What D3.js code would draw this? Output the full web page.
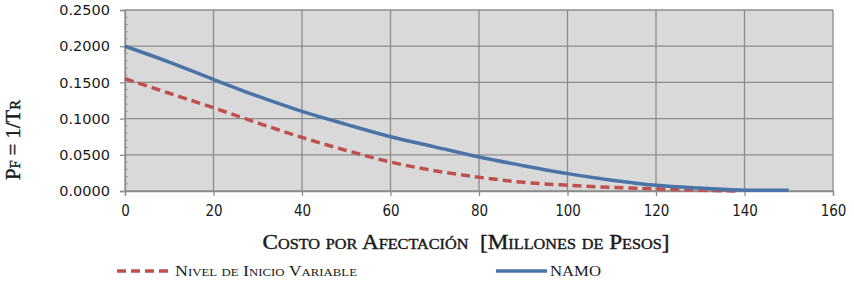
<!DOCTYPE html>
<html>
<head>
<meta charset="UTF-8">
<script src="https://d3js.org/d3.v7.min.js"></script>
<style>
  body { margin: 0; background: #fff; }
  text { fill: #1a1a1a; }
</style>
</head>
<body>
<svg id="canvas"></svg>
<script>
width = 854;
height = 282;

// values
xTicks = [0, 20, 40, 60, 80, 100, 120, 140, 160];
yTicks = [0, 0.05, 0.10, 0.15, 0.20, 0.25];

namoX = [0, 10, 20, 30, 40, 50, 60, 70, 80, 90, 100, 110, 120, 130, 140, 150];
namoY = [0.200, 0.178, 0.154, 0.131, 0.110, 0.092, 0.075, 0.061, 0.047, 0.035, 0.024, 0.015, 0.008, 0.004, 0.001, 0.001];

nivelX = [0, 10, 20, 30, 40, 50, 60, 70, 80, 90, 100, 110, 120, 130, 138];
nivelY = [0.155, 0.135, 0.115, 0.094, 0.074, 0.056, 0.040, 0.028, 0.019, 0.012, 0.008, 0.005, 0.003, 0.001, 0.000];

seriesNames = ["Nivel de Inicio Variable", "NAMO"];

margin = {left: 125, right: 21, top: 10, bottom: 91};

canvas = d3.select("#canvas")
    .attr("width", width)
    .attr("height", height);

x = d3.scaleLinear().domain([0, 160]).range([margin.left, width - margin.right]);
y = d3.scaleLinear().domain([0, 0.25]).range([height - margin.bottom, margin.top]);

// plot background
canvas.append("rect")
    .attr("x", x(0)).attr("y", y(0.25))
    .attr("width", x(160) - x(0)).attr("height", y(0) - y(0.25))
    .attr("fill", "#d9d9d9");

// gridlines
canvas.append("g").selectAll("line")
    .data(yTicks).enter().append("line")
    .attr("x1", x(0)).attr("x2", x(160))
    .attr("y1", d => y(d)).attr("y2", d => y(d))
    .attr("stroke", "#8c8c8c").attr("stroke-width", 1.3);

canvas.append("g").selectAll("line")
    .data(xTicks).enter().append("line")
    .attr("x1", d => x(d)).attr("x2", d => x(d))
    .attr("y1", y(0)).attr("y2", y(0.25))
    .attr("stroke", "#8c8c8c").attr("stroke-width", 1.3);

// minor ticks on y axis
minor = d3.range(0, 0.2501, 0.01);
canvas.append("g").selectAll("line")
    .data(minor).enter().append("line")
    .attr("x1", x(0)).attr("x2", x(0) + 3)
    .attr("y1", d => y(d)).attr("y2", d => y(d))
    .attr("stroke", "#a0a0a0").attr("stroke-width", 1);

// axes
yAxis = canvas.append("g")
    .attr("transform", "translate(" + x(0) + ",0)")
    .call(d3.axisLeft(y).tickValues(yTicks).tickSize(5).tickPadding(10)
        .tickFormat(d3.format(".4f")));

xAxis = canvas.append("g")
    .attr("transform", "translate(0," + y(0) + ")")
    .call(d3.axisBottom(x).tickValues(xTicks).tickSize(5).tickPadding(9)
        .tickFormat(d3.format("d")));

canvas.selectAll(".domain").attr("stroke", "#8c8c8c").attr("stroke-width", 1.3);
canvas.selectAll(".tick line").attr("stroke", "#8c8c8c").attr("stroke-width", 1.3);
yAxis.selectAll("text")
    .attr("font-family", "DejaVu Sans")
    .attr("font-size", 14.5)
    .attr("fill", "#333");
xAxis.selectAll("text")
    .attr("font-family", "Liberation Sans Narrow, DejaVu Sans Condensed, sans-serif")
    .attr("font-size", 15)
    .attr("fill", "#333");

// lines
line = d3.line()
    .x(d => x(d[0]))
    .y(d => y(d[1]))
    .curve(d3.curveMonotoneX);

canvas.append("path")
    .datum(d3.zip(nivelX, nivelY))
    .attr("d", line)
    .attr("fill", "none")
    .attr("stroke", "#c0504d")
    .attr("stroke-width", 3.5)
    .attr("stroke-dasharray", "9,5");

canvas.append("path")
    .datum(d3.zip(namoX, namoY))
    .attr("d", line)
    .attr("fill", "none")
    .attr("stroke", "#4a74a8")
    .attr("stroke-width", 3.5);

// titles
canvas.append("text")
    .attr("x", 466).attr("y", 249)
    .attr("text-anchor", "middle")
    .attr("font-family", "Liberation Serif, serif")
    .attr("font-size", 20)
    .attr("stroke", "#1a1a1a").attr("stroke-width", 0.4)
    .style("font-variant", "small-caps")
    .style("white-space", "pre")
    .attr("textLength", 407)
    .attr("lengthAdjust", "spacingAndGlyphs")
    .text("Costo por Afectación \u00a0[Millones de Pesos]");

canvas.append("text")
    .attr("transform", "translate(20,140) rotate(-90)")
    .attr("text-anchor", "middle")
    .attr("font-family", "Liberation Serif, serif")
    .attr("font-size", 21)
    .attr("stroke", "#1a1a1a").attr("stroke-width", 0.4)
    .style("font-variant", "small-caps")
    .attr("textLength", 80)
    .attr("lengthAdjust", "spacingAndGlyphs")
    .text("Pf = 1/Tr");

// legend
legend = canvas.append("g");
legendItems = [
    {name: seriesNames[0], color: "#c0504d", dash: "9,5", x0: 117, x1: 172, len: 182},
    {name: seriesNames[1], color: "#4a74a8", dash: null, x0: 496, x1: 547, len: 51}
];
legendItems.forEach(function(d) {
    legend.append("line")
        .attr("x1", d.x0).attr("x2", d.x1)
        .attr("y1", 271).attr("y2", 271)
        .attr("stroke", d.color)
        .attr("stroke-width", 3.5)
        .attr("stroke-dasharray", d.dash);
    legend.append("text")
        .attr("x", d.x1 + 3).attr("y", 276)
        .attr("font-family", "Liberation Serif, serif")
        .attr("font-size", 14)
        .style("font-variant", "small-caps")
        .attr("textLength", d.len)
        .attr("lengthAdjust", "spacingAndGlyphs")
        .text(d.name);
});
</script>
</body>
</html>
